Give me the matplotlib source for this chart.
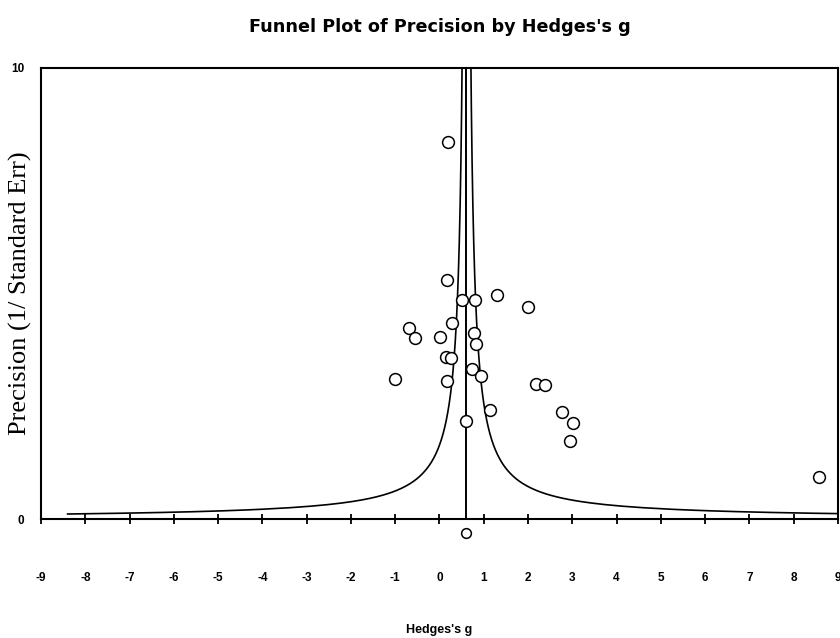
import matplotlib.pyplot as plt
import numpy as np

# study effect sizes (Hedges's g) and precision (1/SE)
hedges_g = [0.20, 0.17, 0.50, 0.81, 1.31, 2.00, -0.68, -0.56, 0.29, 0.01,
            0.79, 0.83, 0.15, 0.25, -1.01, 0.17, 0.73, 0.93, 2.19, 2.39,
            1.14, 2.77, 3.02, 0.60, 2.95, 8.57]
precision = [8.36, 5.30, 4.85, 4.85, 4.96, 4.70, 4.23, 4.01, 4.35, 4.04,
             4.13, 3.87, 3.60, 3.58, 3.10, 3.05, 3.33, 3.16, 3.00, 2.97,
             2.42, 2.38, 2.13, 2.18, 1.74, 0.94]

# combined estimate, drawn below the axis
combined_g = 0.61
combined_y = -0.31

xticks = list(range(-9, 10))
yticks = [0, 10]


def draw():
    fig = plt.figure(figsize=(8.4, 6.38), dpi=100)
    ax = fig.add_axes([0.0488, 0.1865, 0.9488, 0.707])

    # funnel limits
    p = np.linspace(0.111, 10.5, 600)
    ax.plot(combined_g - 1.0 / p, p, color="black", lw=1.2)
    ax.plot(combined_g + 1.0 / p, p, color="black", lw=1.2)
    ax.plot([combined_g, combined_g], [0, 10], color="black", lw=1.4)

    ax.plot(hedges_g, precision, "o", mfc="white", mec="black", mew=1.1,
            ms=8.5, linestyle="none", zorder=3)
    ax.plot([combined_g], [combined_y], "o", mfc="white", mec="black",
            mew=1.1, ms=7, clip_on=False, zorder=3)

    ax.set_xlim(-9, 9)
    ax.set_ylim(0, 10)
    ax.set_xticks(xticks)
    ax.set_xticklabels([str(t) for t in xticks], fontsize=8.5, fontweight="bold",
                       family="Liberation Sans")
    ax.set_yticks(yticks)
    ax.set_yticklabels([str(t) for t in yticks], fontsize=8.5, fontweight="bold",
                       family="Liberation Sans")
    ax.tick_params(axis="x", direction="inout", length=7, width=1.3, pad=34.5)
    ax.tick_params(axis="y", length=0, pad=12)
    for s in ax.spines.values():
        s.set_linewidth(1.5)

    ax.set_title("Funnel Plot of Precision by Hedges's g", fontsize=12.7,
                 fontweight="bold", family="DejaVu Sans", pad=26)
    ax.set_xlabel("Hedges's g", fontsize=9, fontweight="bold",
                  family="Liberation Sans")
    ax.xaxis.set_label_coords(0.5, -0.232)
    ax.set_ylabel("Precision (1/ Standard Err)", fontsize=19,
                  family="Liberation Serif")
    ax.yaxis.set_label_coords(-0.011, 0.5)

    fig.savefig("out.png", dpi=100)


if __name__ == "__main__":
    draw()
